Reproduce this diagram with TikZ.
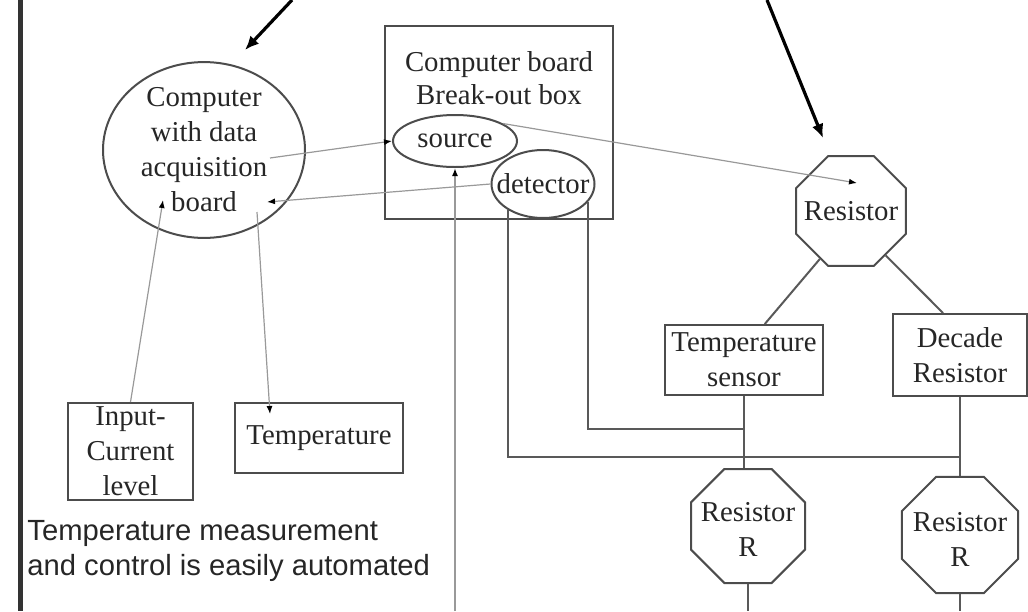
\documentclass[tikz,border=0pt]{standalone}
\usepackage{fontspec}
\setmainfont{Liberation Serif}
\setsansfont{Liberation Sans}
\usepackage{tikz}
\usetikzlibrary{shapes.geometric,arrows.meta}

\begin{document}
\begin{tikzpicture}[x=0.5pt,y=-0.5pt]
\tikzstyle{every node}=[font=\fontsize{14.4}{17.5}\selectfont,text=black!85]

\tikzstyle{unitbox}=[draw=black!70,line width=1pt,rectangle,inner sep=0pt,align=center]
\tikzstyle{unitoval}=[draw=black!70,line width=1pt,ellipse,inner sep=0pt,align=center]
\tikzstyle{resoct}=[draw=black!70,line width=1pt,regular polygon,regular polygon sides=8,inner sep=0pt]
\tikzstyle{wire}=[draw=black!65,line width=1pt]
\tikzstyle{signal}=[draw=black!40,line width=0.6pt,-{Latex[color=black,length=4pt,width=3pt]}]
\tikzstyle{pointer}=[draw=black,line width=1.6pt,-{Latex[length=7pt,width=6pt]}]

\useasboundingbox (0,0) rectangle (1028,611);

%% Draw page edge
\draw[line width=2.5pt,black!80] (20,0) -- (20,611);

%% Draw computer and break-out box
\node[unitoval,minimum width=101pt,minimum height=87.5pt] (comp) at (204,150) {Computer\\with data\\acquisition\\board};
\node[unitbox,minimum width=114pt,minimum height=96.5pt] (bobox) at (499,122.5) {};
\node[font=\fontsize{14.4}{16.5}\selectfont,align=center] (botitle) at (499,78) {Computer board\\Break-out box};
\node[unitoval,minimum width=62pt,minimum height=26pt] (source) at (455,141) {source};
\node[unitoval,minimum width=51.5pt,minimum height=34pt] (detector) at (543,184) {\makebox[0pt]{detector}};

%% Draw input and read-out boxes
\node[unitbox,minimum width=62.5pt,minimum height=48.5pt] (iclevel) at (130.5,451.5) {Input-\\Current\\level};
\node[unitbox,minimum width=84pt,minimum height=35pt] (tempread) at (319,438) {Temperature};
\node[anchor=west,align=left,inner sep=0pt,font=\sffamily\fontsize{14.6}{17.5}\selectfont] (caption) at (27,551) {Temperature measurement\\and control is easily automated};

%% Draw resistor network
\node[resoct,minimum size=59.5pt] (restop) at (851,211) {};
\node (restoptxt) at (851,211) {Resistor};
\node[unitbox,minimum width=79pt,minimum height=35pt] (tsensor) at (744,360) {Temperature\\sensor};
\node[unitbox,minimum width=67pt,minimum height=41pt] (decade) at (960,355) {Decade\\Resistor};
\node[resoct,minimum size=61.7pt] (resR1) at (748,526) {};
\node[align=center] (resR1txt) at (748,529.5) {Resistor\\R};
\node[resoct,minimum size=62.8pt] (resR2) at (960,535) {};
\node[align=center] (resR2txt) at (960,539) {Resistor\\R};

%% Free ends
\coordinate (ptrAtail) at (292,0);
\coordinate (ptrAhead) at (245,50);
\coordinate (ptrBtail) at (767,0);
\coordinate (ptrBhead) at (823,138);
\coordinate (compout) at (270,158);
\coordinate (compin) at (267,202);
\coordinate (compin2) at (163,200);
\coordinate (compout2) at (257,212);
\coordinate (tempin) at (270,414);
\coordinate (resin) at (857,183);
\coordinate (srcfoot) at (455,611);
\coordinate (jhigh) at (744,429);
\coordinate (jlow) at (960,457);
\coordinate (r1foot) at (748,611);
\coordinate (r2foot) at (960,611);

%% Draw pointers from above
\draw[pointer] (ptrAtail) -- (ptrAhead);
\draw[pointer] (ptrBtail) -- (ptrBhead);

%% Draw signal lines
\draw[signal] (compout) -- (source.west);
\draw[signal] (detector.west) -- (compin);
\draw[signal] (source.20) -- (resin);
\draw[signal] (iclevel.north) -- (compin2);
\draw[signal] (compout2) -- (tempin);
\draw[signal,line width=1.2pt] (srcfoot) -- (source.south);

%% Draw wiring
\draw[wire] (detector.-144.5) |- (jlow);
\draw[wire] (detector.-22) |- (jhigh);
\draw[wire] (tsensor.south) -- (tsensor.south |- resR1.north);
\draw[wire] (decade.south) -- (resR2.north);
\draw[wire] (restop.-123) -- (tsensor.60);
\draw[wire] (restop.-52) -- (decade.112);
\draw[wire] (resR1.south) -- (r1foot);
\draw[wire] (resR2.south) -- (r2foot);
\end{tikzpicture}
\end{document}
